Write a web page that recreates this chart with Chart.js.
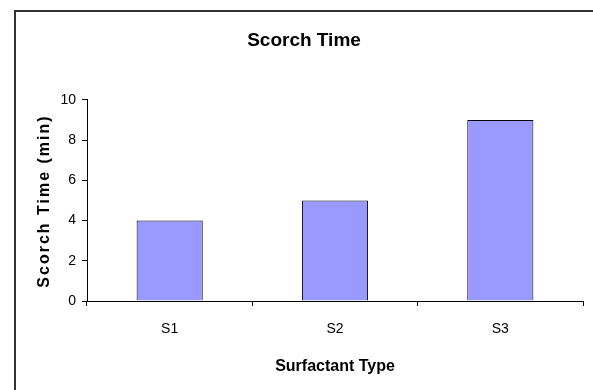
<!DOCTYPE html>
<html>
<head>
<meta charset="utf-8">
<script src="https://cdn.jsdelivr.net/npm/chart.js@4/dist/chart.umd.min.js"></script>
<style>
  html, body { margin: 0; padding: 0; background: #fff; }
  #wrap { width: 593px; height: 390px; position: relative; }
</style>
</head>
<body>
<div id="wrap"><canvas id="myChart" width="593" height="390"></canvas></div>
<script>
// categories along the x-axis
var surfactants = ["S1", "S2", "S3"];
// scorch time in minutes
var scorchTime = [4, 5, 9];
var chartTitle = "Scorch Time";
var xTitle = "Surfactant Type";
var yTitle = "Scorch Time (min)";

var fam = '"Liberation Sans", Arial, sans-serif';

// frame round the chart, like the spreadsheet chart border
var framePlugin = {
  id: 'frame',
  beforeDraw: function(chart) {
    var c = chart.ctx;
    c.save();
    c.strokeStyle = '#333';
    c.lineWidth = 2;
    c.strokeRect(15, 11, 700, 500);
    c.restore();
  }
};

// y title drawn by hand so it can be letter spaced
var yTitlePlugin = {
  id: 'yTitle',
  afterDraw: function(chart) {
    var c = chart.ctx;
    c.save();
    c.font = 'bold 16px ' + fam;
    c.fillStyle = '#000';
    c.letterSpacing = '2px';
    c.textAlign = 'center';
    c.textBaseline = 'middle';
    c.translate(45, 201);
    c.rotate(-Math.PI / 2);
    c.fillText(yTitle, 0, 0);
    c.restore();
  }
};

Chart.defaults.font.family = fam;
Chart.defaults.color = '#000';

var ctx = document.getElementById("myChart");
var myChart = new Chart(ctx, {
  type: 'bar',
  data: {
    labels: surfactants,
    datasets: [
      {
        label: yTitle,
        data: scorchTime,
        backgroundColor: "#9999FF",
        borderColor: "#000",
        borderWidth: 1,
        categoryPercentage: 1,
        barPercentage: 0.4
      }
    ]
  },
  options: {
    responsive: false,
    animation: false,
    layout: { padding: { left: 25, right: 10, top: 0, bottom: 0 } },
    plugins: {
      legend: { display: false },
      tooltip: { enabled: false },
      title: {
        display: true,
        text: chartTitle,
        font: { size: 19, weight: 'bold' },
        padding: { top: 29, bottom: 48 }
      }
    },
    scales: {
      x: {
        grid: { drawOnChartArea: false, color: '#000', tickLength: 5, offset: true },
        border: { color: '#000', width: 1 },
        ticks: { font: { size: 14 }, padding: 15 },
        title: { display: true, text: xTitle, font: { size: 16, weight: 'bold' }, padding: { top: 4, bottom: 14 } },
        afterFit: function(scale) { scale.height = 89; }
      },
      y: {
        min: 0,
        max: 10,
        ticks: { stepSize: 2, font: { size: 14 }, padding: 6 },
        grid: { drawOnChartArea: false, color: '#000', tickLength: 5 },
        border: { color: '#000', width: 1 },
        afterFit: function(scale) { scale.width = 62; }
      }
    }
  },
  plugins: [framePlugin, yTitlePlugin]
});
</script>
</body>
</html>
